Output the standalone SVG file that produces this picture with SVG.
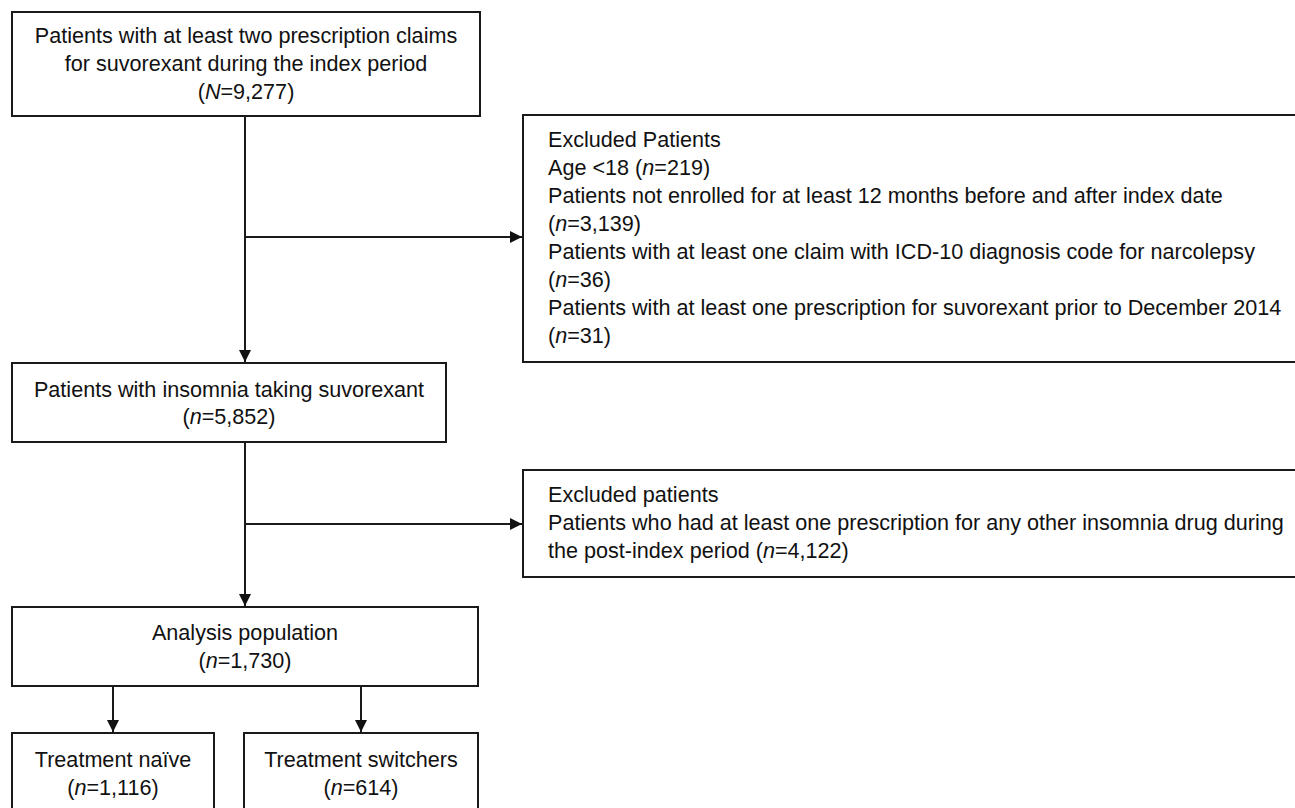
<svg xmlns="http://www.w3.org/2000/svg" width="1295" height="808" viewBox="0 0 1295 808">
<defs>
<style>
.box{fill:#fff;stroke:#1a1a1a;stroke-width:2}
.t{font-family:"Liberation Sans",Arial,sans-serif;font-size:21.6px;fill:#111}
.c{text-anchor:middle}
.i{font-style:italic}
.ln{stroke:#1a1a1a;stroke-width:2;fill:none}
</style>
<marker id="ah" markerWidth="12" markerHeight="12" viewBox="0 0 12 12" refX="12" refY="6" orient="auto" markerUnits="userSpaceOnUse">
<path d="M0,0 L12,6 L0,12 Z" fill="#111"/>
</marker>
</defs>
<rect width="1295" height="808" fill="#fff"/>
<g id="connectors">
<line class="ln" x1="245" y1="116" x2="245" y2="362" marker-end="url(#ah)"/>
<line class="ln" x1="245" y1="237" x2="522" y2="237" marker-end="url(#ah)"/>
<line class="ln" x1="245" y1="442" x2="245" y2="606" marker-end="url(#ah)"/>
<line class="ln" x1="245" y1="524" x2="522" y2="524" marker-end="url(#ah)"/>
<line class="ln" x1="113" y1="686" x2="113" y2="732" marker-end="url(#ah)"/>
<line class="ln" x1="361" y1="686" x2="361" y2="732" marker-end="url(#ah)"/>
</g>
<g id="start">
<rect class="box" x="12" y="12" width="468" height="104"/>
<text class="t c" x="246" y="43">Patients with at least two prescription claims</text>
<text class="t c" x="246" y="71">for suvorexant during the index period</text>
<text class="t c" x="246" y="99">(<tspan class="i">N</tspan>=9,277)</text>
</g>
<g id="excluded1">
<rect class="box" x="523" y="115" width="790" height="247"/>
<text class="t" x="548" y="147">Excluded Patients</text>
<text class="t" x="548" y="175">Age &lt;18 (<tspan class="i">n</tspan>=219)</text>
<text class="t" x="548" y="203">Patients not enrolled for at least 12 months before and after index date</text>
<text class="t" x="548" y="231">(<tspan class="i">n</tspan>=3,139)</text>
<text class="t" x="548" y="259">Patients with at least one claim with ICD-10 diagnosis code for narcolepsy</text>
<text class="t" x="548" y="287">(<tspan class="i">n</tspan>=36)</text>
<text class="t" x="548" y="315">Patients with at least one prescription for suvorexant prior to December 2014</text>
<text class="t" x="548" y="343">(<tspan class="i">n</tspan>=31)</text>
</g>
<g id="insomnia">
<rect class="box" x="12" y="363" width="434" height="79"/>
<text class="t c" x="229" y="397">Patients with insomnia taking suvorexant</text>
<text class="t c" x="229" y="424">(<tspan class="i">n</tspan>=5,852)</text>
</g>
<g id="excluded2">
<rect class="box" x="523" y="470" width="790" height="107"/>
<text class="t" x="548" y="502">Excluded patients</text>
<text class="t" x="548" y="530">Patients who had at least one prescription for any other insomnia drug during</text>
<text class="t" x="548" y="558">the post-index period (<tspan class="i">n</tspan>=4,122)</text>
</g>
<g id="analysis">
<rect class="box" x="12" y="607" width="466" height="79"/>
<text class="t c" x="245" y="640">Analysis population</text>
<text class="t c" x="245" y="668">(<tspan class="i">n</tspan>=1,730)</text>
</g>
<g id="naive">
<rect class="box" x="12" y="733" width="202" height="85"/>
<text class="t c" x="113" y="767">Treatment naïve</text>
<text class="t c" x="113" y="795">(<tspan class="i">n</tspan>=1,116)</text>
</g>
<g id="switchers">
<rect class="box" x="244" y="733" width="234" height="85"/>
<text class="t c" x="361" y="767">Treatment switchers</text>
<text class="t c" x="361" y="795">(<tspan class="i">n</tspan>=614)</text>
</g>
</svg>
